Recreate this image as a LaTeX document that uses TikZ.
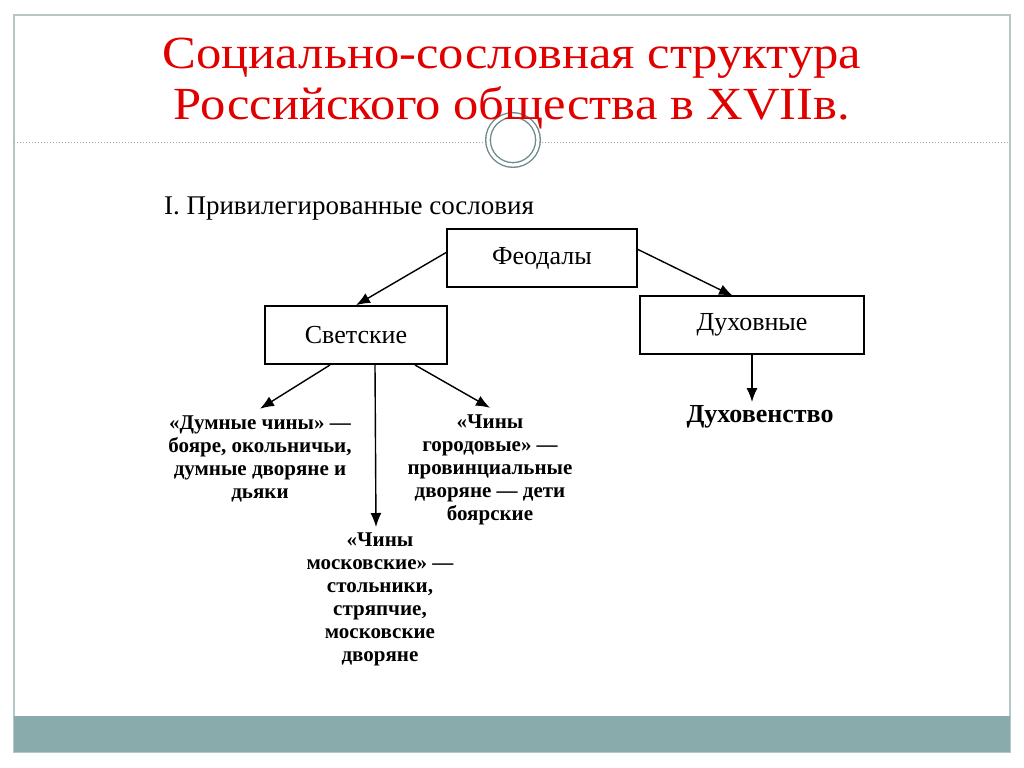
\documentclass[tikz,border=0pt]{standalone}
\usepackage{fontspec}
\setmainfont{Liberation Serif}
\usetikzlibrary{arrows.meta, positioning}
\definecolor{titlered}{HTML}{E00000}
\definecolor{framegrey}{HTML}{B4C6C6}
\definecolor{barteal}{HTML}{8AABAB}
\definecolor{ringgrey}{HTML}{6E8A8A}
\tikzstyle{estate} = [rectangle, draw=black, line width=0.8pt, minimum height=29pt, text centered, font=\fontsize{13}{15}\selectfont]
\tikzstyle{rank} = [align=center, font=\bfseries\fontsize{10.5}{11.5}\selectfont]
\tikzstyle{arrow} = [line width=0.7pt, -{Latex[length=7pt,width=5.5pt]}]

\begin{document}
\begin{tikzpicture}[x=0.5pt, y=-0.5pt]
\useasboundingbox (0,0) rectangle (1024,767);

% Slide
\fill[white] (0,0) rectangle (1024,767);
\draw[framegrey, line width=0.8pt] (14,15) rectangle (1010,752);
\fill[barteal] (14,716) rectangle (1010,752);
\draw[ringgrey!70, densely dotted, line width=0.5pt] (14,142) -- (484,142);
\draw[ringgrey!70, densely dotted, line width=0.5pt] (542,142) -- (1010,142);
\node (ring) [circle, draw=ringgrey, double=white, double distance=1.6pt, line width=0.7pt, minimum size=25pt, fill=white] at (513,140) {};

% Title
\node (title) [align=center, text=titlered, xscale=1.1, font=\fontsize{23}{25.5}\selectfont] at (512,84) {Социально-сословная структура\\Российского общества в XVIIв.};

% Heading
\node (heading) [anchor=base west, font=\fontsize{13.5}{16}\selectfont] at (157,214) {I. Привилегированные сословия};

% Estates
\node (feudal) [estate, minimum width=95pt] at (542,258) {Феодалы};
\node (secular) [estate, minimum width=91pt] at (356,335) {Светские};
\node (church) [estate, minimum width=112pt] at (752,325) {Духовные};
\node (clergy) [font=\bfseries\fontsize{13}{15}\selectfont] at (760,417) {Духовенство};

% Ranks
\node (duma) [rank] at (260,459) {«Думные чины» —\\бояре, окольничьи,\\думные дворяне и\\дьяки};
\node (town) [rank] at (490,470) {«Чины\\городовые» —\\провинциальные\\дворяне — дети\\боярские};
\node (moscow) [rank] at (380,599) {«Чины\\московские» —\\стольники,\\стряпчие,\\московские\\дворяне};

% Arrow ends
\coordinate (f1) at (447,252);
\coordinate (f2) at (637,249);
\coordinate (d1) at (733,296);
\coordinate (s1) at (330,365);
\coordinate (s2) at (375,365);
\coordinate (s3) at (415,365);
\coordinate (m1) at (376,527);
\coordinate (c1) at (752,402);

% Arrows
\draw [arrow] (f1) -- (secular.north);
\draw [arrow] (f2) -- (d1);
\draw [arrow] (church.south) -- (c1);
\draw [arrow] (s1) -- (duma.north);
\draw [arrow] (s2) -- (m1);
\draw [arrow] (s3) -- (town.north);

\end{tikzpicture}
\end{document}
